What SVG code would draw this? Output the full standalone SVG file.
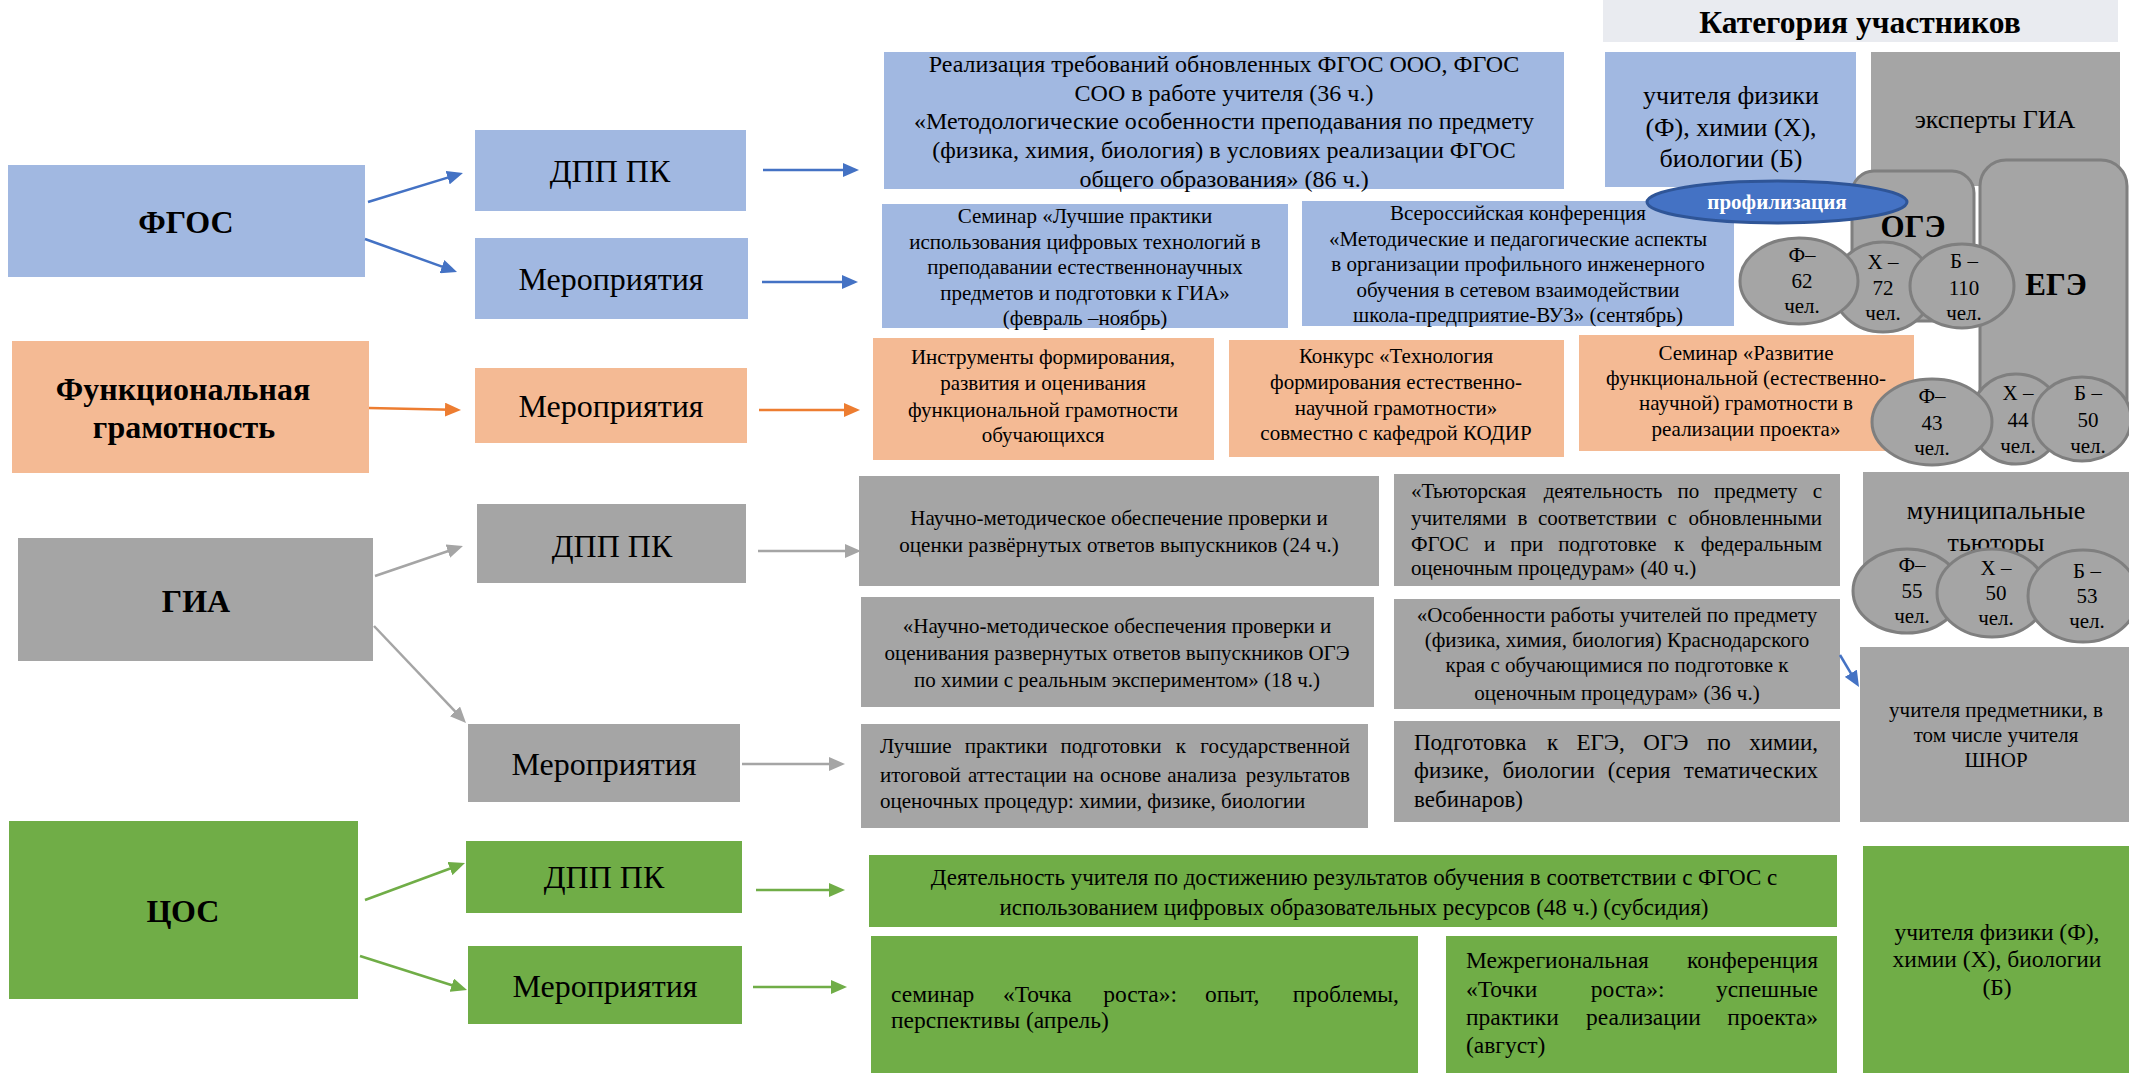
<svg xmlns="http://www.w3.org/2000/svg" width="2129" height="1073" viewBox="0 0 2129 1073">
<style>
.t{font-family:"Liberation Serif","Times New Roman",serif;fill:#000}
.c{text-anchor:middle}
.e{text-anchor:end}
.b{font-weight:bold}
.blue{fill:#A1B8E1}
.orange{fill:#F4BA94}
.gray{fill:#A5A5A5}
.green{fill:#70AD47}
.oval{fill:#A5A5A5;stroke:#7F7F7F;stroke-width:3}
.lbl{font-size:32px}
.big{font-size:32px}
.s21{font-size:21px}
.s23{font-size:23px}
.s24{font-size:23.5px}
.s26{font-size:26px}
.conn{fill:none;stroke-width:2.5}
</style>
<defs>
<marker id="ab" markerUnits="userSpaceOnUse" markerWidth="16" markerHeight="14" refX="6" refY="7" orient="auto"><path d="M0,0 L16,7 L0,14 z" fill="#4472C4"/></marker>
<marker id="ao" markerUnits="userSpaceOnUse" markerWidth="16" markerHeight="14" refX="6" refY="7" orient="auto"><path d="M0,0 L16,7 L0,14 z" fill="#ED7D31"/></marker>
<marker id="ag" markerUnits="userSpaceOnUse" markerWidth="16" markerHeight="14" refX="6" refY="7" orient="auto"><path d="M0,0 L16,7 L0,14 z" fill="#A5A5A5"/></marker>
<marker id="agr" markerUnits="userSpaceOnUse" markerWidth="16" markerHeight="14" refX="6" refY="7" orient="auto"><path d="M0,0 L16,7 L0,14 z" fill="#70AD47"/></marker>
</defs>
<rect width="2129" height="1073" fill="#fff"/>

<!-- left column -->
<g id="fgos"><rect class="blue" x="8" y="165" width="357" height="112"/><text class="t b c big" x="186" y="233">ФГОС</text></g>
<g id="fgos-dpp"><rect class="blue" x="475" y="130" width="271" height="81"/><text class="t c lbl" x="610" y="182">ДПП ПК</text></g>
<g id="fgos-mer"><rect class="blue" x="475" y="238" width="273" height="81"/><text class="t c lbl" x="611" y="290">Мероприятия</text></g>

<g id="func"><rect class="orange" x="12" y="341" width="357" height="132"/><text class="t b c lbl" x="183" y="400">Функциональная</text><text class="t b c lbl" x="184" y="438">грамотность</text></g>
<g id="func-mer"><rect class="orange" x="475" y="368" width="272" height="75"/><text class="t c lbl" x="611" y="417">Мероприятия</text></g>

<g id="gia"><rect class="gray" x="18" y="538" width="355" height="123"/><text class="t b c lbl" x="196" y="612">ГИА</text></g>
<g id="gia-dpp"><rect class="gray" x="477" y="504" width="269" height="79"/><text class="t c lbl" x="612" y="557">ДПП ПК</text></g>
<g id="gia-mer"><rect class="gray" x="468" y="724" width="272" height="78"/><text class="t c lbl" x="604" y="775">Мероприятия</text></g>

<g id="cos"><rect class="green" x="9" y="821" width="349" height="178"/><text class="t b c big" x="183" y="922">ЦОС</text></g>
<g id="cos-dpp"><rect class="green" x="466" y="841" width="276" height="72"/><text class="t c lbl" x="604" y="888">ДПП ПК</text></g>
<g id="cos-mer"><rect class="green" x="468" y="946" width="274" height="78"/><text class="t c lbl" x="605" y="997">Мероприятия</text></g>

<!-- FGOS content -->
<g id="fgos-dpp-content"><rect class="blue" x="884" y="52" width="680" height="137"/>
<text class="t c" font-size="24"><tspan x="1224" y="72">Реализация требований обновленных ФГОС ООО, ФГОС</tspan><tspan x="1224" y="101">СОО в работе учителя (36 ч.)</tspan><tspan x="1224" y="129">«Методологические особенности преподавания по предмету</tspan><tspan x="1224" y="158">(физика, химия, биология) в условиях реализации ФГОС</tspan><tspan x="1224" y="187">общего образования» (86 ч.)</tspan></text></g>
<g id="fgos-seminar"><rect class="blue" x="882" y="204" width="406" height="124"/>
<text class="t c s21"><tspan x="1085" y="223">Семинар «Лучшие практики</tspan><tspan x="1085" y="249">использования цифровых технологий в</tspan><tspan x="1085" y="274">преподавании естественнонаучных</tspan><tspan x="1085" y="300">предметов и подготовки к ГИА»</tspan><tspan x="1085" y="325">(февраль –ноябрь)</tspan></text></g>
<g id="fgos-conf"><rect class="blue" x="1302" y="201" width="432" height="125"/>
<text class="t c s21"><tspan x="1518" y="220">Всероссийская конференция</tspan><tspan x="1518" y="246">«Методические и педагогические аспекты</tspan><tspan x="1518" y="271">в организации профильного инженерного</tspan><tspan x="1518" y="297">обучения в сетевом взаимодействии</tspan><tspan x="1518" y="322">школа-предприятие-ВУЗ» (сентябрь)</tspan></text></g>

<!-- Functional literacy content -->
<g id="func-tools"><rect class="orange" x="873" y="338" width="341" height="122"/>
<text class="t c s21"><tspan x="1043" y="364">Инструменты формирования,</tspan><tspan x="1043" y="390">развития и оценивания</tspan><tspan x="1043" y="417">функциональной грамотности</tspan><tspan x="1043" y="442">обучающихся</tspan></text></g>
<g id="func-contest"><rect class="orange" x="1229" y="340" width="335" height="117"/>
<text class="t c s21"><tspan x="1396" y="363">Конкурс «Технология</tspan><tspan x="1396" y="389">формирования естественно-</tspan><tspan x="1396" y="415">научной грамотности»</tspan><tspan x="1396" y="440">совместно с кафедрой КОДИР</tspan></text></g>
<g id="func-seminar"><rect class="orange" x="1579" y="335" width="335" height="116"/>
<text class="t c s21"><tspan x="1746" y="360">Семинар «Развитие</tspan><tspan x="1746" y="385">функциональной (естественно-</tspan><tspan x="1746" y="410">научной) грамотности в</tspan><tspan x="1746" y="436">реализации проекта»</tspan></text></g>

<!-- GIA content -->
<g id="gia-a"><rect class="gray" x="859" y="476" width="520" height="110"/>
<text class="t c s21"><tspan x="1119" y="525">Научно-методическое обеспечение проверки и</tspan><tspan x="1119" y="552">оценки развёрнутых ответов выпускников (24 ч.)</tspan></text></g>
<g id="gia-b"><rect class="gray" x="1394" y="474" width="446" height="112"/>
<text class="t s21"><tspan x="1411" y="498">«Тьюторская</tspan><tspan x="1543.7" y="498">деятельность</tspan><tspan x="1677.6" y="498">по</tspan><tspan x="1714" y="498">предмету</tspan></text><text class="t s21 e" x="1822" y="498">с</text>
<text class="t s21"><tspan x="1411" y="525">учителями</tspan><tspan x="1517.6" y="525">в</tspan><tspan x="1538" y="525">соответствии</tspan><tspan x="1667.4" y="525">с</tspan></text><text class="t s21 e" x="1822" y="525">обновленными</text>
<text class="t s21"><tspan x="1411" y="551">ФГОС</tspan><tspan x="1483.9" y="551">и</tspan><tspan x="1510.2" y="551">при</tspan><tspan x="1558.2" y="551">подготовке</tspan><tspan x="1673.9" y="551">к</tspan></text><text class="t s21 e" x="1822" y="551">федеральным</text>
<text class="t s21" x="1411" y="575">оценочным процедурам» (40 ч.)</text></g>
<g id="gia-c"><rect class="gray" x="861" y="597" width="513" height="110"/>
<text class="t c s21"><tspan x="1117" y="633">«Научно-методическое обеспечения проверки и</tspan><tspan x="1117" y="660">оценивания развернутых ответов выпускников ОГЭ</tspan><tspan x="1117" y="687">по химии с реальным экспериментом» (18 ч.)</tspan></text></g>
<g id="gia-d"><rect class="gray" x="1394" y="599" width="446" height="110"/>
<text class="t c s21"><tspan x="1617" y="622">«Особенности работы учителей по предмету</tspan><tspan x="1617" y="647">(физика, химия, биология) Краснодарского</tspan><tspan x="1617" y="672">края с обучающимися по подготовке к</tspan><tspan x="1617" y="700">оценочным процедурам» (36 ч.)</tspan></text></g>
<g id="gia-e"><rect class="gray" x="861" y="724" width="507" height="104"/>
<text class="t s21"><tspan x="880" y="753">Лучшие</tspan><tspan x="964.7" y="753">практики</tspan><tspan x="1060.5" y="753">подготовки</tspan><tspan x="1175.8" y="753">к</tspan></text><text class="t s21 e" x="1350" y="753">государственной</text>
<text class="t s21"><tspan x="880" y="782">итоговой</tspan><tspan x="968.1" y="782">аттестации</tspan><tspan x="1073" y="782">на</tspan><tspan x="1100" y="782">основе</tspan><tspan x="1167.2" y="782">анализа</tspan></text><text class="t s21 e" x="1350" y="782">результатов</text>
<text class="t s21" x="880" y="808">оценочных процедур: химии, физике, биологии</text></g>
<g id="gia-f"><rect class="gray" x="1394" y="721" width="446" height="101"/>
<text class="t s23"><tspan x="1414" y="750">Подготовка</tspan><tspan x="1546.9" y="750">к</tspan><tspan x="1576.5" y="750">ЕГЭ,</tspan><tspan x="1643.3" y="750">ОГЭ</tspan><tspan x="1706.9" y="750">по</tspan></text><text class="t s23 e" x="1818" y="750">химии,</text>
<text class="t s23"><tspan x="1414" y="778">физике,</tspan><tspan x="1502.5" y="778">биологии</tspan><tspan x="1607.8" y="778">(серия</tspan></text><text class="t s23 e" x="1818" y="778">тематических</text>
<text class="t s23" x="1414" y="807">вебинаров)</text></g>

<!-- COS content -->
<g id="cos-g"><rect class="green" x="869" y="855" width="968" height="72"/>
<text class="t c s23"><tspan x="1354" y="885">Деятельность учителя по достижению результатов обучения в соответствии с ФГОС с</tspan><tspan x="1354" y="915">использованием цифровых образовательных ресурсов (48 ч.) (субсидия)</tspan></text></g>
<g id="cos-h"><rect class="green" x="871" y="936" width="547" height="137"/>
<text class="t s24"><tspan x="891" y="1002">семинар</tspan><tspan x="1002.9" y="1002">«Точка</tspan><tspan x="1103.2" y="1002">роста»:</tspan><tspan x="1204.9" y="1002">опыт,</tspan></text><text class="t s24 e" x="1399" y="1002">проблемы,</text>
<text class="t s24" x="891" y="1028">перспективы (апрель)</text></g>
<g id="cos-i"><rect class="green" x="1446" y="936" width="391" height="137"/>
<text class="t s24" x="1466" y="968">Межрегиональная</text><text class="t s24 e" x="1818" y="968">конференция</text>
<text class="t s24"><tspan x="1466" y="997">«Точки</tspan><tspan x="1590.8" y="997">роста»:</tspan></text><text class="t s24 e" x="1818" y="997">успешные</text>
<text class="t s24"><tspan x="1466" y="1025">практики</tspan><tspan x="1586.1" y="1025">реализации</tspan></text><text class="t s24 e" x="1818" y="1025">проекта»</text>
<text class="t s24" x="1466" y="1053">(август)</text></g>

<!-- participants column -->
<g id="header"><rect x="1603" y="0" width="515" height="42" fill="#E9EBF0"/><text class="t b c" font-size="31.5" x="1860" y="33">Категория участников</text></g>
<g id="part-fgos"><rect class="blue" x="1605" y="52" width="251" height="135"/>
<text class="t c s26"><tspan x="1731" y="104">учителя физики</tspan><tspan x="1731" y="136">(Ф), химии (Х),</tspan><tspan x="1731" y="167">биологии (Б)</tspan></text></g>
<g id="experts"><rect class="gray" x="1871" y="52" width="249" height="134"/><text class="t c s26" x="1995" y="128">эксперты ГИА</text></g>
<g id="oge"><rect class="oval" x="1852" y="171" width="122" height="150" rx="22"/><text class="t b c" font-size="31" x="1913" y="237">ОГЭ</text></g>
<g id="ege"><rect class="oval" x="1980" y="160" width="147" height="280" rx="26"/><text class="t b c" font-size="31" x="2056" y="295">ЕГЭ</text></g>
<g id="profil"><ellipse cx="1777" cy="202" rx="130" ry="21" fill="#4472C4" stroke="#2F5597" stroke-width="3"/><text class="t b c" font-size="21" x="1777" y="209" style="fill:#fff">профилизация</text></g>

<g id="oge-x"><ellipse class="oval" cx="1883" cy="287" rx="50" ry="45"/><text class="t c s21"><tspan x="1883" y="269">Х –</tspan><tspan x="1883" y="295">72</tspan><tspan x="1883" y="320">чел.</tspan></text></g>
<g id="oge-f"><ellipse class="oval" cx="1799" cy="281" rx="59" ry="43"/><text class="t c s21"><tspan x="1802" y="262">Ф–</tspan><tspan x="1802" y="288">62</tspan><tspan x="1802" y="313">чел.</tspan></text></g>
<g id="oge-b"><ellipse class="oval" cx="1962" cy="286" rx="52" ry="42"/><text class="t c s21"><tspan x="1964" y="268">Б –</tspan><tspan x="1964" y="295">110</tspan><tspan x="1964" y="320">чел.</tspan></text></g>

<g id="ege-x"><ellipse class="oval" cx="2016" cy="419" rx="46" ry="45"/><text class="t c s21"><tspan x="2018" y="400">Х –</tspan><tspan x="2018" y="427">44</tspan><tspan x="2018" y="453">чел.</tspan></text></g>
<g id="ege-f"><ellipse class="oval" cx="1932" cy="422" rx="60" ry="43"/><text class="t c s21"><tspan x="1932" y="403">Ф–</tspan><tspan x="1932" y="430">43</tspan><tspan x="1932" y="455">чел.</tspan></text></g>
<g id="ege-b"><ellipse class="oval" cx="2082" cy="419" rx="49" ry="42"/><text class="t c s21"><tspan x="2088" y="400">Б –</tspan><tspan x="2088" y="427">50</tspan><tspan x="2088" y="453">чел.</tspan></text></g>

<g id="tutors"><rect class="gray" x="1863" y="472" width="266" height="128"/><text class="t c s26"><tspan x="1996" y="519">муниципальные</tspan><tspan x="1996" y="551">тьюторы</tspan></text></g>
<g id="tut-f"><ellipse class="oval" cx="1907" cy="591" rx="54" ry="42"/><text class="t c s21"><tspan x="1912" y="572">Ф–</tspan><tspan x="1912" y="598">55</tspan><tspan x="1912" y="623">чел.</tspan></text></g>
<g id="tut-x"><ellipse class="oval" cx="1992" cy="593" rx="55" ry="44"/><text class="t c s21"><tspan x="1996" y="575">Х –</tspan><tspan x="1996" y="600">50</tspan><tspan x="1996" y="625">чел.</tspan></text></g>
<g id="tut-b"><ellipse class="oval" cx="2083" cy="596" rx="55" ry="46"/><text class="t c s21"><tspan x="2087" y="578">Б –</tspan><tspan x="2087" y="603">53</tspan><tspan x="2087" y="628">чел.</tspan></text></g>

<g id="subject-teachers"><rect class="gray" x="1860" y="647" width="269" height="175"/><text class="t c s21"><tspan x="1996" y="717">учителя предметники, в</tspan><tspan x="1996" y="742">том числе учителя</tspan><tspan x="1996" y="767">ШНОР</tspan></text></g>
<g id="part-cos"><rect class="green" x="1863" y="846" width="266" height="227"/><text class="t c s24"><tspan x="1997" y="940">учителя физики (Ф),</tspan><tspan x="1997" y="967">химии (Х), биологии</tspan><tspan x="1997" y="995">(Б)</tspan></text></g>

<!-- connectors -->
<g id="connectors" class="conn">
<path d="M368,202 L453.4,175.9" stroke="#4472C4" marker-end="url(#ab)"/>
<path d="M365,239 L447.6,268.6" stroke="#4472C4" marker-end="url(#ab)"/>
<path d="M763,170 L849,170" stroke="#4472C4" marker-end="url(#ab)"/>
<path d="M762,282 L848,282" stroke="#4472C4" marker-end="url(#ab)"/>
<path d="M369,408 L451,409.8" stroke="#ED7D31" marker-end="url(#ao)"/>
<path d="M759,410 L850,410" stroke="#ED7D31" marker-end="url(#ao)"/>
<path d="M375,576 L453.5,549.2" stroke="#A5A5A5" marker-end="url(#ag)"/>
<path d="M374,626 L459.1,715.7" stroke="#A5A5A5" marker-end="url(#ag)"/>
<path d="M758,551 L851,551" stroke="#A5A5A5" marker-end="url(#ag)"/>
<path d="M742,764 L835,764" stroke="#A5A5A5" marker-end="url(#ag)"/>
<path d="M365,900 L455.6,866.5" stroke="#70AD47" marker-end="url(#agr)"/>
<path d="M360,956 L457.5,987" stroke="#70AD47" marker-end="url(#agr)"/>
<path d="M756,890 L835,890" stroke="#70AD47" marker-end="url(#agr)"/>
<path d="M753,987 L837,987" stroke="#70AD47" marker-end="url(#agr)"/>
<path d="M1840,655 L1853.9,678.4" stroke="#4472C4" marker-end="url(#ab)"/>
</g>
</svg>
